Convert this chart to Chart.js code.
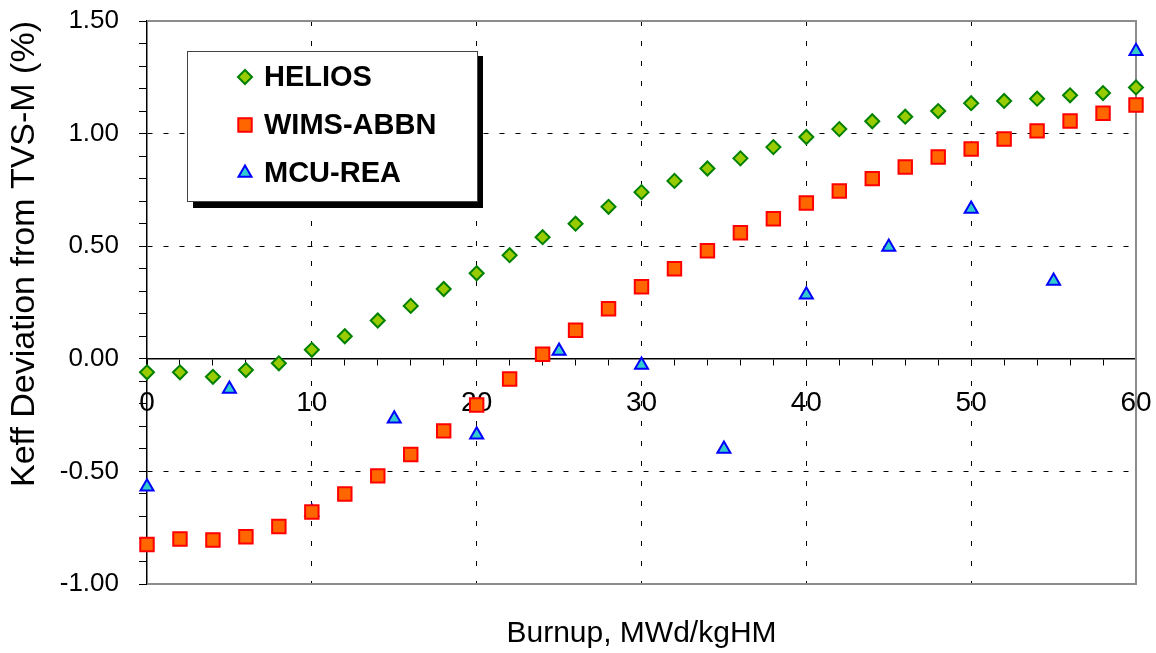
<!DOCTYPE html>
<html>
<head>
<meta charset="utf-8">
<script src="https://cdn.jsdelivr.net/npm/chart.js@4"></script>
<style>
  html, body { margin: 0; padding: 0; background: #fff; }
  #wrap { width: 1156px; height: 653px; position: relative; }
</style>
</head>
<body>
<div id="wrap"><canvas id="chart"></canvas></div>
<script>
const seriesNames = ['HELIOS', 'WIMS-ABBN', 'MCU-REA'];
const burnupFine = [0, 2, 4, 6, 8, 10, 12, 14, 16, 18, 20, 22, 24, 26, 28, 30,
                    32, 34, 36, 38, 40, 42, 44, 46, 48, 50, 52, 54, 56, 58, 60];
const heliosValues = [-0.06, -0.06, -0.08, -0.05, -0.02, 0.04, 0.10, 0.17, 0.235, 0.31, 0.38,
                      0.46, 0.54, 0.60, 0.675, 0.74, 0.79, 0.845, 0.89, 0.94, 0.985,
                      1.02, 1.055, 1.075, 1.10, 1.135, 1.145, 1.155, 1.17, 1.18, 1.205];
const wimsValues = [-0.825, -0.80, -0.805, -0.79, -0.745, -0.68, -0.60, -0.52, -0.425, -0.32, -0.205,
                    -0.09, 0.02, 0.127, 0.222, 0.32, 0.40, 0.48, 0.56, 0.622, 0.692,
                    0.745, 0.80, 0.852, 0.896, 0.932, 0.976, 1.012, 1.056, 1.09, 1.127];
const burnupCoarse = [0, 5, 10, 15, 20, 25, 30, 35, 40, 45, 50, 55, 60];
const mcuValues = [-0.568, -0.134, -0.68, -0.266, -0.337, 0.035, -0.027, -0.40, 0.284, 0.497, 0.665, 0.345, 1.366];
const xTickLabels = [0, 10, 20, 30, 40, 50, 60];
const yTickLabels = [-1.0, -0.5, 0, 0.5, 1.0, 1.5];

const FONT = '"Liberation Sans", Arial, sans-serif';
const CLEAR = 'rgba(0,0,0,0)';

function near(list, v) { return list.some(t => Math.abs(t - v) < 1e-6); }
function pairs(xs, ys) { return xs.map((x, i) => ({ x: x, y: ys[i] })); }
function noPad(s) { s.paddingLeft = 0; s.paddingRight = 0; s.paddingTop = 0; s.paddingBottom = 0; }

// grey frame on top, right and bottom of the plot
const frame = {
    id: 'frame',
    beforeDatasetsDraw(chart) {
        const { ctx, chartArea: a } = chart;
        ctx.save();
        ctx.strokeStyle = '#8c8c8c';
        ctx.lineWidth = 2;
        ctx.beginPath();
        ctx.moveTo(a.left, a.top);
        ctx.lineTo(a.right, a.top);
        ctx.lineTo(a.right, a.bottom);
        ctx.lineTo(a.left, a.bottom);
        ctx.stroke();
        ctx.restore();
    }
};

// boxed legend with a heavy drop shadow, inside the plot
const boxLegend = {
    id: 'boxLegend',
    afterDraw(chart) {
        const ctx = chart.ctx;
        const bx = 187, by = 51, bw = 290, bh = 150;
        ctx.save();
        ctx.fillStyle = '#000';
        ctx.fillRect(bx + 6, by + 5, bw, bh + 2);
        ctx.fillStyle = '#fff';
        ctx.fillRect(bx, by, bw, bh);
        ctx.strokeStyle = '#444';
        ctx.lineWidth = 1;
        ctx.strokeRect(bx + 0.5, by + 0.5, bw, bh);
        chart.data.datasets.forEach((ds, i) => {
            const y = by + 26 + i * 48;
            ctx.fillStyle = ds.backgroundColor;
            ctx.strokeStyle = ds.borderColor;
            ctx.lineWidth = 2;
            Chart.helpers.drawPoint(ctx, {
                pointStyle: ds.pointStyle, radius: ds.legendRadius, borderWidth: 2, rotation: 0
            }, bx + 58, y);
            ctx.fillStyle = '#000';
            ctx.font = 'bold 29px ' + FONT;
            ctx.textAlign = 'left';
            ctx.textBaseline = 'middle';
            ctx.fillText(ds.label, bx + 77, y + 1);
        });
        ctx.restore();
    }
};

new Chart(document.getElementById('chart'), {
    type: 'scatter',
    data: {
        datasets: [
            { label: seriesNames[0], data: pairs(burnupFine, heliosValues), pointStyle: 'rectRot',
              pointRadius: 7, legendRadius: 7, backgroundColor: '#99cc00', borderColor: '#008000', borderWidth: 2 },
            { label: seriesNames[1], data: pairs(burnupFine, wimsValues), pointStyle: 'rect',
              pointRadius: 9.5, legendRadius: 9.5, backgroundColor: '#ff6600', borderColor: '#ff0000', borderWidth: 2 },
            { label: seriesNames[2], data: pairs(burnupCoarse, mcuValues), pointStyle: 'triangle',
              pointRadius: 7.5, legendRadius: 7.5, backgroundColor: '#33cccc', borderColor: '#0000ff', borderWidth: 2 }
        ]
    },
    options: {
        responsive: true,
        maintainAspectRatio: false,
        animation: false,
        clip: false,
        layout: { padding: { top: 21, right: 20, left: 0, bottom: 0 } },
        plugins: {
            legend: { display: false },
            tooltip: { enabled: false },
            title: {
                display: true, position: 'bottom', fullSize: false,
                text: 'Burnup, MWd/kgHM', color: '#000',
                font: { family: FONT, size: 30, weight: 'normal' },
                padding: { top: 32, bottom: 1 }
            }
        },
        scales: {
            x: {
                type: 'linear', position: { y: 0 }, min: 0, max: 60,
                afterFit: noPad,
                border: { display: true, color: '#000', width: 1.5, dash: [5, 15] },
                grid: {
                    color: c => (c.tick && near([10, 20, 30, 40, 50], c.tick.value)) ? '#000' : CLEAR,
                    lineWidth: 1, tickColor: '#000', tickLength: 6
                },
                ticks: {
                    stepSize: 2, autoSkip: false, maxRotation: 0, padding: 22, color: '#000',
                    font: { family: FONT, size: 28 },
                    callback: v => near(xTickLabels, v) ? String(v) : ''
                }
            },
            y: {
                min: -1, max: 1.5,
                afterFit: s => { s.width = 147; noPad(s); },
                border: { display: true, color: '#000', width: 1.5, dash: [5, 11] },
                grid: {
                    color: c => (c.tick && near([-0.5, 0.5, 1.0], c.tick.value)) ? '#000' : CLEAR,
                    lineWidth: 1, tickColor: '#000', tickLength: 8
                },
                ticks: {
                    stepSize: 0.1, autoSkip: false, padding: 20, color: '#000',
                    font: { family: FONT, size: 26 },
                    callback: v => near(yTickLabels, v) ? v.toFixed(2) : ''
                },
                title: {
                    display: true, text: 'Keff Deviation from TVS-M (%)', align: 'end', color: '#000',
                    font: { family: FONT, size: 34 }, padding: { top: 4, bottom: 0 }
                }
            }
        }
    },
    plugins: [frame, boxLegend]
});
</script>
</body>
</html>
